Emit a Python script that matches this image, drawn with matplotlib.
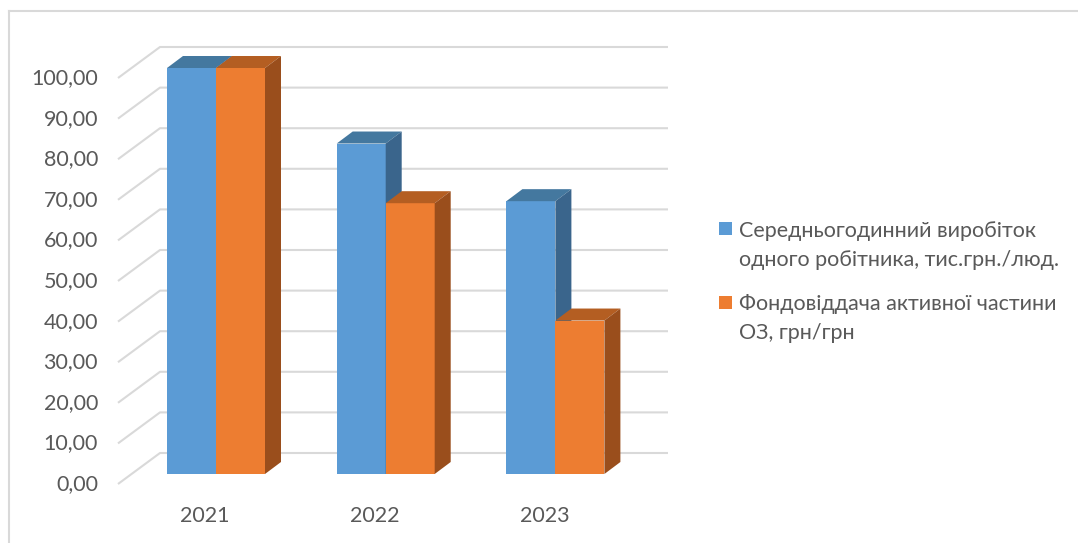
import numpy as np
import matplotlib
matplotlib.use("Agg")
import matplotlib.pyplot as plt
from matplotlib.patches import Polygon, Rectangle

plt.rcParams['font.family'] = ['Lato', 'DejaVu Sans']

years = ['2021', '2022', '2023']
output_per_worker = [100.0, 81.4, 67.2]
capital_productivity = [100.0, 66.7, 37.8]
series_names = [['Середньогодинний виробіток', 'одного робітника, тис.грн./люд.'],
                ['Фондовіддача активної частини', 'ОЗ, грн/грн']]
yticks = np.arange(0, 101, 10)

W, H = 1078, 543
fig = plt.figure(figsize=(W / 100, H / 100), dpi=100)

# axes box in pixels: x 100..700, y 40..500 (top-down)
px_per_cat = 169.7
px_per_val = 4.06
x0_px, y0_px = 216, 474          # centre of first pair, value 0 on the front plane
left, right, top, bottom = 100, 700, 40, 500
ax = fig.add_axes([left / W, (H - bottom) / H, (right - left) / W, (bottom - top) / H])
ax.set_xlim((left - x0_px) / px_per_cat, (right - x0_px) / px_per_cat)
ax.set_ylim((y0_px - bottom) / px_per_val, (y0_px - top) / px_per_val)
ax.axis('off')

# oblique depth of the bars and of the wall
dx = 16 / px_per_cat
dy = 12 / px_per_val
wall_dx0 = (118 - x0_px) / px_per_cat
wall_dx1 = (160 - x0_px) / px_per_cat
wall_end = (668 - x0_px) / px_per_cat
front_off = -10 / px_per_val
back_off = 21 / px_per_val

grid_c = '#d9d9d9'
text_c = '#595959'
fs = 15.5
for v in yticks:
    ax.plot([wall_dx0, wall_dx1, wall_end], [v + front_off, v + back_off, v + back_off],
            color=grid_c, lw=1.5, zorder=1, solid_capstyle='butt')
    ax.text((98 - left) / (right - left), v + front_off, f'{v:.2f}'.replace('.', ','),
            transform=ax.get_yaxis_transform(), ha='right', va='center',
            fontsize=fs, color=text_c)

bw = 49 / px_per_cat
colors = [('#5b9bd5', '#44789f', '#3a658c'), ('#ed7d31', '#b45e22', '#9a4e1c')]


def draw_bar(xl, h, cols, z):
    front, topc, side = cols
    ax.add_patch(Rectangle((xl, 0), bw, h, facecolor=front, edgecolor='none', zorder=z))
    ax.add_patch(Polygon([(xl, h), (xl + bw, h), (xl + bw + dx, h + dy), (xl + dx, h + dy)],
                         closed=True, facecolor=topc, edgecolor='none', zorder=z))
    ax.add_patch(Polygon([(xl + bw, 0), (xl + bw + dx, dy), (xl + bw + dx, h + dy), (xl + bw, h)],
                         closed=True, facecolor=side, edgecolor='none', zorder=z))


for i in range(len(years)):
    draw_bar(i - bw, output_per_worker[i], colors[0], 3)
    draw_bar(i, capital_productivity[i], colors[1], 4)
    ax.text(i - 11 / px_per_cat, (y0_px - 516) / px_per_val, years[i],
            ha='center', va='center', fontsize=fs, color=text_c)

# legend
for k, col in enumerate([colors[0][0], colors[1][0]]):
    yc = [229, 302][k]
    fig.patches.append(Rectangle((719 / W, (H - yc - 6.5) / H), 13 / W, 13 / H,
                                 facecolor=col, edgecolor='none', transform=fig.transFigure))
    for j, line in enumerate(series_names[k]):
        fig.text(739 / W, (H - yc - 29 * j) / H, line, ha='left', va='center_baseline',
                 fontsize=fs, color=text_c)

# chart area frame
fig.add_artist(plt.Line2D([9 / W, 9 / W], [0, (H - 11) / H], color=grid_c, lw=1.5))
fig.add_artist(plt.Line2D([9 / W, 1], [(H - 11) / H, (H - 11) / H], color=grid_c, lw=1.5))

fig.savefig('out.png', dpi=100, facecolor='white')
